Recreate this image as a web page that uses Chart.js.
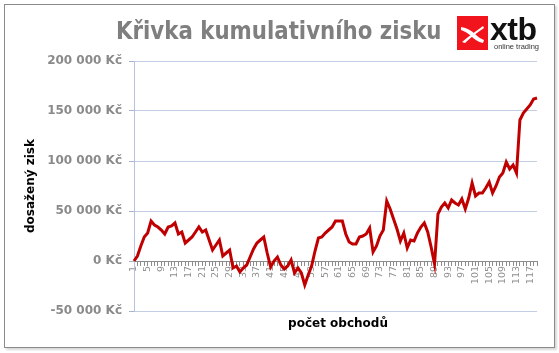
<!DOCTYPE html>
<html>
<head>
<meta charset="utf-8">
<script src="https://cdn.jsdelivr.net/npm/chart.js@4.4.1/dist/chart.umd.min.js"></script>
<style>
  body { margin: 0; background: #fff; }
  #wrap { position: relative; width: 559px; height: 353px; overflow: hidden; }
  #frame { position: absolute; left: 4px; top: 4px; width: 549px; height: 342px; border: 1px solid #8a8a8a; box-shadow: 2px 2px 2px #d8d8d8; }
  #chart { position: absolute; left: 0; top: 0; }
  .lbl { position: absolute; white-space: nowrap; font-family: "DejaVu Sans", sans-serif; font-weight: bold; }
  #title { left: 116px; top: 17px; font-size: 24px; color: #7f7f7f; transform-origin: 0 0; }
  #ytitle { left: 30px; top: 186px; font-size: 12px; color: #000; transform: translate(-50%, -50%) rotate(-90deg); }
  #xtitle { left: 338px; top: 323px; font-size: 12px; color: #000; transform: translate(-50%, -50%); }
  #xtb { left: 490px; top: 11px; font-family: "Liberation Sans", Arial, sans-serif; font-size: 32px; color: #111; letter-spacing: -0.5px; }
  #online { left: 494px; top: 42px; font-family: "Liberation Sans", Arial, sans-serif; font-weight: normal; font-size: 7.5px; color: #333; }
  #logo { position: absolute; left: 457px; top: 16px; }
</style>
</head>
<body>
<div id="wrap">
  <div id="frame"></div>
  <canvas id="chart" width="559" height="353"></canvas>
  <div class="lbl" id="title">Křivka kumulativního zisku</div>
  <svg id="logo" width="31" height="34" viewBox="0 0 31 34">
    <rect width="31" height="34" fill="#f2141c"/>
    <path d="M4 11 C10 12 15 15 18 18 C21 21 24 23 27 24 L26 27 C21 26 17 23 14 20 C11 17 7 15 4 14 Z" fill="#fff"/>
    <path d="M5 26 C10 22 16 17 22 13 L26 10 L27 12 C21 16 14 21 8 27 Z" fill="#fff"/>
  </svg>
  <div class="lbl" id="xtb">xtb</div>
  <div class="lbl" id="online">online trading</div>
  <div class="lbl" id="ytitle">dosažený zisk</div>
  <div class="lbl" id="xtitle">počet obchodů</div>
</div>
<script>
// --- Data ---
const trades = Array.from({ length: 119 }, (_, i) => String(i + 1));
const profit = [
  0, 5000, 15000, 24000, 28000, 40000, 36000, 34000, 31000, 27000,
  34000, 35000, 38000, 27000, 29000, 18000, 21000, 24000, 29000, 34000,
  29000, 31000, 21000, 11000, 16000, 21000, 5000, 8000, 11000, -7000,
  -5000, -11000, -7000, -4000, 4000, 12000, 18000, 21000, 24000, 8000,
  -6000, 0, 4000, -4000, -8000, -5000, 1000, -12000, -7000, -12000,
  -24000, -14000, -5000, 10000, 23000, 24000, 28000, 31000, 34000, 40000,
  40000, 40000, 27000, 19000, 17000, 17000, 24000, 25000, 27000, 33000,
  9000, 15000, 25000, 31000, 60000, 52000, 42000, 32000, 20000, 28000,
  13000, 21000, 20000, 28000, 34000, 38000, 29000, 14000, -3000, 47000,
  54000, 58000, 53000, 61000, 58000, 56000, 62000, 52000, 63000, 78000,
  65000, 68000, 68000, 73000, 79000, 68000, 75000, 84000, 88000, 99000,
  92000, 96000, 88000, 141000, 148000, 152000, 156000, 162000, 163000
];
const yMin = -50000;
const yMax = 200000;
const yStep = 50000;

// --- Fit title width ---
const title = document.getElementById("title");
title.style.transform = `scaleX(${326 / title.offsetWidth})`;

const fmtKc = v => {
  const s = Math.abs(v).toString().replace(/\B(?=(\d{3})+(?!\d))/g, " ");
  return (v < 0 ? "-" : "") + s + " Kč";
};

// --- Chart ---
new Chart(document.getElementById("chart"), {
  type: "line",
  data: {
    labels: trades,
    datasets: [{
      data: profit,
      borderColor: "#c00000",
      borderWidth: 3,
      pointRadius: 0,
      tension: 0
    }]
  },
  options: {
    responsive: false,
    animation: false,
    devicePixelRatio: 1,
    layout: { padding: { left: 0, right: 22, top: 61, bottom: 42 } },
    plugins: { legend: { display: false }, tooltip: { enabled: false } },
    scales: {
      x: {
        position: { y: 0 },
        grid: { drawOnChartArea: false, drawTicks: true, tickLength: 4, color: "#8c8c8c" },
        border: { color: "#8c8c8c", width: 1 },
        ticks: {
          autoSkip: false,
          maxRotation: 90,
          minRotation: 90,
          padding: 1,
          color: "#909090",
          font: { family: "DejaVu Sans", size: 9.5 },
          callback: (v, i) => (i % 4 === 0 ? trades[i] : "")
        }
      },
      y: {
        min: yMin,
        max: yMax,
        afterFit: s => { s.width = 134; },
        grid: { color: "#c3cee4", tickLength: 5, tickColor: "#aab4c8" },
        border: { color: "#b4c4e2" },
        ticks: {
          stepSize: yStep,
          padding: 7,
          color: "#8a8a8a",
          font: { family: "DejaVu Sans", size: 12, weight: "bold" },
          callback: v => fmtKc(v)
        }
      }
    }
  }
});
</script>
</body>
</html>
